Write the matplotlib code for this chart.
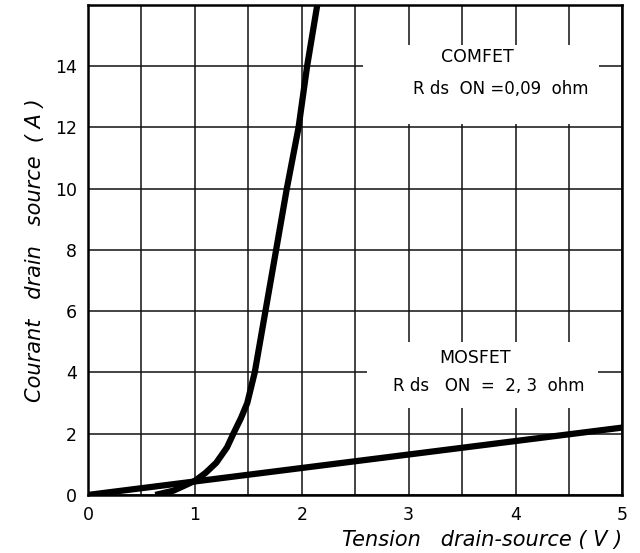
import numpy as np
import matplotlib
matplotlib.use("Agg")
import matplotlib.pyplot as plt
from matplotlib.patches import Rectangle
from matplotlib.ticker import MultipleLocator

# values
comfet_v = [0.63, 0.8, 1.0, 1.1, 1.2, 1.3, 1.36, 1.43, 1.49, 1.56, 1.66, 1.76, 1.86, 1.97, 2.05, 2.145]
comfet_i = [0.0, 0.14, 0.46, 0.72, 1.05, 1.55, 2.0, 2.5, 3.0, 4.0, 6.0, 8.0, 10.0, 12.0, 14.0, 16.0]
mosfet_v = [0.0, 5.0]
mosfet_i = [0.0, 2.2]

x_ticks = [0, 1, 2, 3, 4, 5]
y_ticks = [0, 2, 4, 6, 8, 10, 12, 14]

plt.rcParams['font.family'] = ['DejaVu Sans']

fig = plt.figure(figsize=(6.4, 5.53), dpi=100)
ax = fig.add_axes([0.1375, 0.105, 0.835, 0.886])

ax.set_xlim(0, 5)
ax.set_ylim(0, 16)
ax.set_xticks(x_ticks)
ax.set_yticks(y_ticks)
ax.xaxis.set_minor_locator(MultipleLocator(0.5))
ax.tick_params(which="both", length=0, labelsize=12.5, pad=8)
ax.grid(True, which="both", axis="x", color="#111111", linewidth=1.1)
ax.grid(True, which="major", axis="y", color="#111111", linewidth=1.1)
ax.set_axisbelow(True)
for s in ax.spines.values():
    s.set_linewidth(1.8)

ax.plot(mosfet_v, mosfet_i, color="black", linewidth=4.5, solid_capstyle="butt", zorder=3)
ax.plot(comfet_v, comfet_i, color="black", linewidth=4.5, solid_capstyle="butt",
        solid_joinstyle="round", zorder=3)

# white boxes that break the grid behind the annotations
ax.add_patch(Rectangle((2.57, 12.1), 2.21, 2.6, facecolor="white", edgecolor="none", zorder=1))
ax.add_patch(Rectangle((2.61, 2.85), 2.16, 2.15, facecolor="white", edgecolor="none", zorder=1))

ax.text(3.64, 14.3, "COMFET", ha="center", va="center", fontsize=12.5, zorder=4)
ax.text(3.86, 13.25, "R ds  ON =0,09  ohm", ha="center", va="center", fontsize=12, zorder=4)
ax.text(3.62, 4.46, "MOSFET", ha="center", va="center", fontsize=12.5, zorder=4)
ax.text(3.75, 3.57, "R ds   ON  =  2, 3  ohm", ha="center", va="center", fontsize=12, zorder=4)

ax.set_xlabel("Tension   drain-source ( V )", fontsize=15, style="italic", loc="right", labelpad=4)
ax.set_ylabel("Courant   drain   source  ( A )", fontsize=15, style="italic")
ax.yaxis.set_label_coords(-0.08, 0.5)

fig.savefig("out.png", dpi=100)
